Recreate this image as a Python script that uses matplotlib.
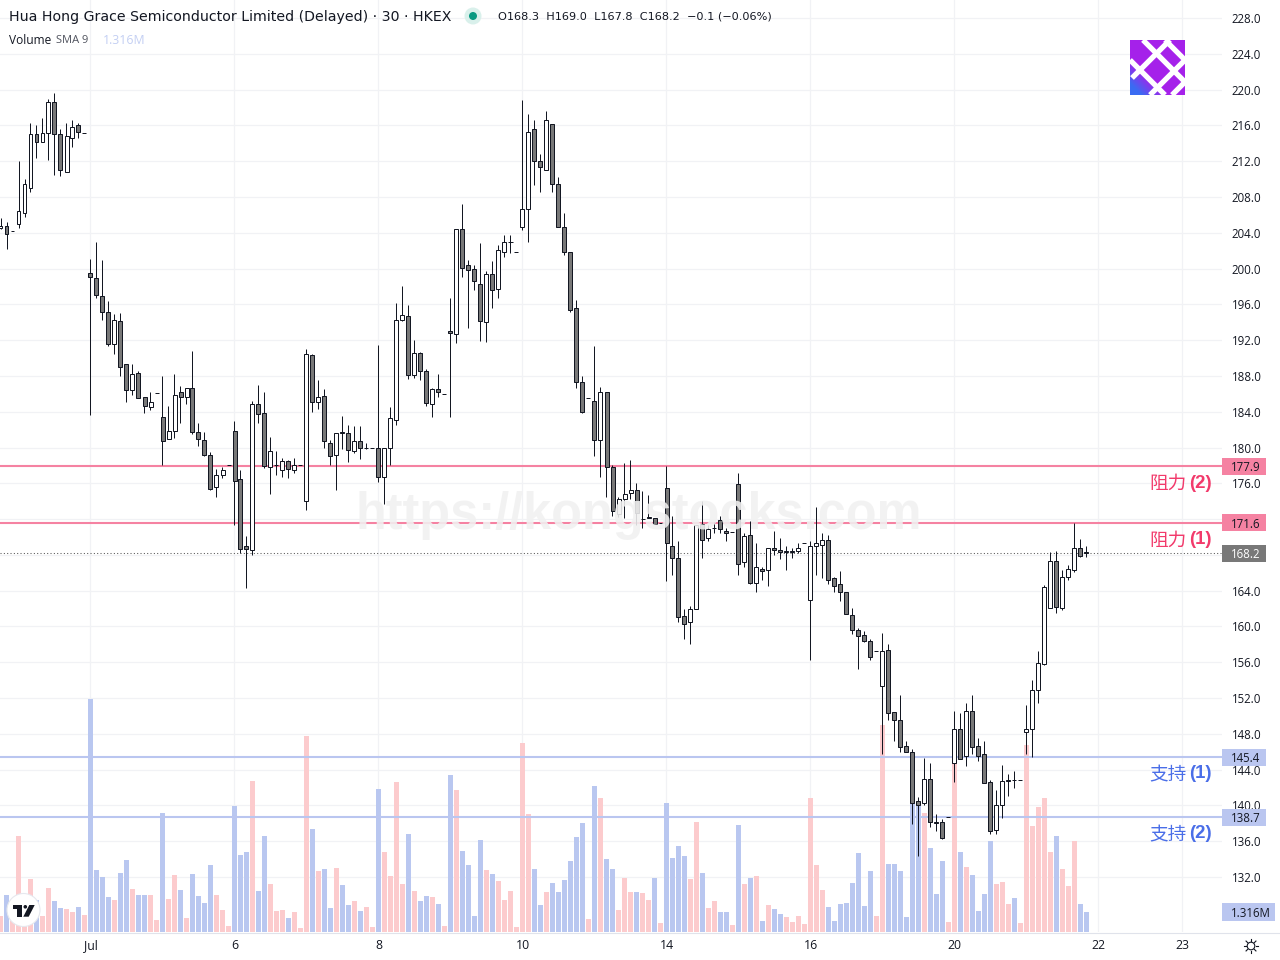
import numpy as np
import matplotlib
matplotlib.use("Agg")
import matplotlib.pyplot as plt
from matplotlib import transforms
from matplotlib.patches import Rectangle, Circle, Polygon

# 30-minute session data, HKEX: Hua Hong Semiconductor
opens = [
 204.5,204.7,204.2,205.0,206.2,209.0,215.0,214.1,215.1,218.6,215.0,210.8,214.6,216.0,215.1,
 199.5,198.9,196.9,195.1,191.6,194.1,189.3,186.4,188.3,185.6,184.5,186.1,183.4,180.9,181.8,186.2,185.6,186.6,181.7,180.8,179.2,175.6,176.9,178.0,
 181.8,176.5,169.0,168.6,184.9,183.9,177.8,178.0,177.5,178.5,177.5,178.0,174.0,190.3,185.1,185.8,180.5,179.2,181.7,181.6,179.6,180.7,179.9,179.9,
 179.9,176.7,179.9,183.1,194.3,194.7,188.1,190.6,188.5,184.9,186.5,186.0,
 193.0,192.7,204.4,200.4,199.9,198.3,194.0,199.4,197.7,201.9,203.0,201.8,
 204.6,206.7,215.6,212.0,211.0,216.1,209.5,204.6,201.8,195.6,187.3,185.5,
 185.2,180.8,186.2,177.8,172.6,174.2,174.9,175.3,172.0,172.1,172.1,171.6,
 175.5,169.0,167.7,161.2,160.5,162.0,171.5,169.9,171.0,171.9,170.7,170.6,
 175.9,167.2,170.2,164.9,166.4,166.3,168.8,168.6,168.3,168.3,168.4,169.3,
 163.0,169.0,169.1,169.7,165.4,164.8,163.9,161.3,159.6,159.0,158.4,157.3,
 153.4,157.4,150.4,149.5,146.6,146.0,140.5,140.3,143.0,138.1,138.1,138.7,
 144.8,148.6,145.5,150.6,146.6,145.7,142.6,137.3,140.0,142.7,142.9,142.9,
 148.2,148.6,152.9,155.8,162.1,167.3,162.1,165.5,166.3,168.8,168.3,
]
highs = [
 205.6,205.2,204.2,212.0,210.0,216.3,216.0,216.8,218.9,219.6,215.6,216.3,216.6,216.3,215.1,
 201.1,203.0,200.9,196.4,194.9,195.0,189.3,189.3,188.6,185.7,186.2,186.1,188.0,184.6,188.2,186.9,186.6,190.8,182.7,181.7,179.5,177.6,177.8,178.0,
 183.0,177.5,170.1,185.2,187.0,186.2,181.2,179.6,178.8,178.6,178.8,178.0,191.0,190.4,187.5,186.5,180.8,181.6,183.5,182.5,182.4,182.4,180.5,179.9,
 191.5,179.9,184.5,196.1,198.0,195.9,192.0,190.7,188.8,186.6,188.2,186.0,
 196.7,204.4,207.2,200.9,200.4,202.9,199.7,200.8,202.6,203.7,203.7,201.8,
 218.8,217.3,216.6,212.8,217.6,216.1,210.2,206.2,201.9,196.5,188.0,185.5,
 191.3,186.8,186.2,178.1,174.5,178.3,178.6,176.0,175.1,174.7,172.1,171.6,
 177.9,172.3,169.6,162.0,162.3,171.3,174.0,171.3,171.7,172.3,171.0,170.6,
 177.1,170.4,171.8,169.3,166.7,168.8,170.7,169.9,169.0,168.8,169.3,169.3,
 169.5,173.3,170.5,170.2,165.5,166.2,163.9,162.1,159.8,159.5,158.6,157.3,
 159.3,158.0,150.4,152.3,147.2,146.3,140.9,145.3,144.7,139.0,138.5,138.7,
 150.6,150.3,151.5,152.4,147.5,147.2,142.9,141.7,144.5,143.5,143.8,142.9,
 151.2,154.0,157.3,164.6,168.3,168.4,166.3,166.9,171.6,169.8,169.0,
]
lows = [
 204.4,202.2,204.2,204.5,205.8,208.6,212.4,214.1,212.1,210.4,210.3,210.8,213.6,214.6,215.1,
 183.6,196.7,194.3,191.4,190.5,188.0,185.1,185.9,185.5,183.9,184.2,186.1,178.0,180.9,181.1,182.7,184.9,181.5,180.2,179.1,175.2,174.5,176.6,178.0,
 171.3,168.2,164.3,168.0,182.7,177.7,174.8,176.9,176.7,176.6,177.2,178.0,173.0,184.0,184.3,180.0,178.0,175.2,179.8,178.4,179.4,178.7,179.8,179.9,
 176.1,173.7,178.0,182.5,194.1,187.7,187.8,187.5,184.6,183.4,185.6,186.0,
 183.4,191.7,199.0,193.4,197.6,191.9,191.8,195.6,196.7,201.3,201.7,201.8,
 204.3,203.0,209.3,208.5,211.0,208.5,204.6,201.5,195.2,186.7,183.9,185.5,
 179.0,176.7,174.5,172.3,172.2,172.1,174.2,171.3,171.0,172.1,171.4,171.6,
 165.1,165.7,160.5,158.6,158.0,161.9,167.7,169.5,170.4,170.5,169.5,170.6,
 165.7,166.7,164.7,163.9,165.2,164.5,168.0,167.5,166.3,167.7,168.2,169.3,
 156.2,165.7,165.4,164.7,163.8,162.9,161.4,159.2,155.3,158.3,156.3,157.3,
 145.8,149.6,147.2,146.0,146.0,137.9,134.4,140.1,137.6,137.2,136.3,138.7,
 142.6,145.2,144.4,145.7,145.0,142.5,136.8,136.8,138.6,141.1,142.0,142.9,
 145.7,145.4,151.4,155.7,162.1,161.5,161.8,165.2,166.1,167.8,167.8,
]
closes = [
 204.8,203.9,204.2,206.4,209.4,215.0,214.1,215.1,218.6,215.0,211.0,214.8,215.8,215.3,215.1,
 199.0,197.0,195.2,191.6,194.2,189.0,186.4,188.2,185.5,184.6,185.1,186.1,180.7,181.8,185.9,185.6,186.6,181.7,180.9,179.2,175.4,176.9,177.5,178.0,
 176.3,168.7,168.7,184.9,183.8,177.9,179.6,178.0,178.5,177.6,178.0,178.0,190.4,185.1,185.7,180.7,179.1,181.6,181.6,179.7,180.7,179.9,179.9,179.9,
 176.7,179.9,183.3,194.3,194.8,188.1,190.6,188.5,185.0,186.5,186.2,186.0,
 192.8,204.4,200.1,199.8,198.6,194.1,199.4,197.6,202.1,203.0,203.0,201.8,
 206.7,215.3,212.0,211.3,216.6,209.5,204.6,201.8,195.4,187.3,184.0,185.5,
 180.8,186.2,177.8,172.9,174.2,174.8,175.3,172.7,172.0,172.2,171.4,171.6,
 169.3,167.6,161.1,160.3,161.9,171.3,169.7,170.9,171.0,170.9,170.5,170.6,
 167.0,170.1,164.9,166.6,166.2,168.8,168.5,168.3,168.4,168.4,168.8,169.3,
 169.0,169.3,169.7,165.2,164.5,163.8,161.4,159.6,158.9,158.4,156.6,157.3,
 157.3,150.3,149.5,146.5,146.0,140.3,140.0,143.0,138.1,138.0,136.4,138.7,
 148.6,145.2,150.6,146.5,145.5,142.5,137.2,140.0,142.7,142.9,142.8,142.9,
 148.6,152.9,155.9,164.4,167.3,162.2,165.5,166.4,168.8,167.9,168.2,
]
# Volume per bar, millions of shares
volumes = [
 1.05,2.43,1.32,6.32,1.97,3.49,2.11,1.05,2.89,2.04,1.58,1.51,1.32,1.64,1.12,
 15.33,4.08,3.62,2.30,2.11,3.88,4.74,2.83,2.43,2.43,2.43,0.79,7.83,2.17,3.75,2.76,0.92,3.82,2.37,1.91,4.41,2.43,1.45,0.39,
 8.29,5.07,5.26,9.93,2.70,6.32,3.16,1.38,1.45,0.92,1.32,0.26,12.90,6.78,4.01,4.14,1.58,4.21,3.09,1.78,2.04,1.38,1.64,0.33,
 9.41,5.26,3.68,9.87,3.16,6.45,2.70,2.04,2.37,2.30,1.84,0.39,
 10.33,9.34,5.33,4.41,1.05,6.05,4.08,3.82,3.36,2.11,2.70,0.33,
 12.43,7.76,4.14,1.78,2.63,3.22,2.63,3.42,4.67,6.25,7.17,0.86,
 9.61,8.82,4.80,4.14,1.45,3.55,2.63,2.63,2.57,2.11,3.55,0.59,
 8.49,4.87,5.66,5.00,3.49,7.24,3.88,1.58,2.04,1.32,1.32,0.46,
 7.04,3.16,3.55,3.68,0.72,1.78,1.51,1.18,0.99,0.66,1.05,0.53,
 8.82,4.41,2.76,1.64,0.72,1.84,1.91,3.22,5.20,1.71,4.01,1.05,
 13.62,4.47,4.47,4.01,0.99,8.55,8.29,7.83,5.53,2.50,4.67,0.66,
 11.16,5.26,4.28,3.75,1.38,2.50,5.99,3.16,3.29,1.84,2.24,0.59,
 12.30,6.97,8.22,8.82,5.26,6.32,4.14,3.03,5.99,1.84,1.316,
]
first_bar = -15

time_tick_bars = [0, 24, 48, 72, 96, 120, 144, 168, 182]
time_tick_labels = ["Jul", "6", "8", "10", "14", "16", "20", "22", "23"]
price_ticks = list(range(132, 232, 4))
covered_ticks = {168, 172}

resistance = [("阻力", "(2)", 177.9, 484), ("阻力", "(1)", 171.6, 541)]
support = [("支持", "(1)", 145.4, 775), ("支持", "(2)", 138.7, 835)]
last_price = 168.2
last_volume = 1.316

INK = "#131722"
BODY = "#787878"
UP_VOL = "#fccbcd"
DOWN_VOL = "#b9c7f0"
RES = "#f582a2"
SUP = "#bac6f0"
GRID = "#f1f2f5"
UI_FONT = "Open Sans"
HEAD_FONT = "DejaVu Sans"

W, H = 1280, 960
PANE_W, PANE_H = 1222, 932
fig = plt.figure(figsize=(W / 100, H / 100), dpi=100, facecolor="white")
rect = [0, (H - PANE_H) / H, PANE_W / W, PANE_H / H]

x = np.arange(len(closes)) + first_bar
o, h, l, c = map(np.array, (opens, highs, lows, closes))
up = c >= o
xlim = (-90.5 / 6, (PANE_W - 90.5) / 6)
ylim = (125.86, 230.01)

# Grid layer with the axis labels
ax_grid = fig.add_axes(rect, zorder=0)
ax_grid.set_xlim(xlim)
ax_grid.set_ylim(ylim)
for s in ax_grid.spines.values():
    s.set_visible(False)
ax_grid.yaxis.tick_right()
ax_grid.set_yticks(price_ticks, ["" if t in covered_ticks else f"{t:.1f}" for t in price_ticks])
ax_grid.set_xticks(time_tick_bars, time_tick_labels)
ax_grid.tick_params(length=0, labelsize=8.3, colors=INK, labelfontfamily=UI_FONT)
ax_grid.tick_params(axis="y", pad=7.0)
ax_grid.tick_params(axis="x", pad=5.2, labelsize=8.8)
ax_grid.grid(True, color=GRID, linewidth=0.9)
ax_grid.set_axisbelow(True)

# Volume layer
ax_vol = fig.add_axes(rect, zorder=1)
ax_vol.patch.set_visible(False)
ax_vol.axis("off")
ax_vol.set_xlim(xlim)
ax_vol.set_ylim(0, PANE_H / (20 / last_volume))
ax_vol.bar(x, volumes, width=5 / 6, color=[UP_VOL if u else DOWN_VOL for u in up], linewidth=0)

# Price layer: levels and candles
ax = fig.add_axes(rect, zorder=2)
ax.patch.set_visible(False)
ax.axis("off")
ax.set_xlim(xlim)
ax.set_ylim(ylim)
for *_, level, _ in resistance:
    ax.axhline(level, color=RES, linewidth=1.5, zorder=1)
for *_, level, _ in support:
    ax.axhline(level, color=SUP, linewidth=1.5, zorder=1)
ax.axhline(last_price, color="#555555", linewidth=0.75, linestyle=(0, (1, 2.2)), zorder=1)
ax.vlines(x, l, h, color=INK, linewidth=0.72, zorder=2)
ax.bar(x, np.abs(c - o), bottom=np.minimum(o, c), width=4 / 6,
       color=["white" if u else BODY for u in up],
       edgecolor=INK, linewidth=0.72, zorder=3)

# Overlay in figure pixels for captions, price tags and badges
ov = fig.add_axes([0, 0, 1, 1], zorder=5)
ov.patch.set_visible(False)
ov.axis("off")
ov.set_xlim(0, W)
ov.set_ylim(H, 0)

price_tf = transforms.blended_transform_factory(ov.transData, ax.transData)
vol_tf = transforms.blended_transform_factory(ov.transData, ax_vol.transData)


def price_tag(value, bg, fg, tf=price_tf, half=0.95, text=None, width=44):
    ov.add_patch(Rectangle((1222, value - half), width, 2 * half, transform=tf,
                           facecolor=bg, edgecolor="none", zorder=3))
    ov.text(1224 + width / 2, value, text or f"{value:.1f}", transform=tf, ha="center",
            va="center_baseline", fontsize=8.3, color=fg, family=UI_FONT, zorder=4)


for *_, level, _ in resistance:
    price_tag(level, RES, INK)
price_tag(last_price, "#787878", "white")
for *_, level, _ in support:
    price_tag(level, SUP, INK)
price_tag(last_volume, SUP, INK, tf=vol_tf, half=0.56, text=f"{last_volume:.3f}M", width=53)

for group, colour in ((resistance, "#f23a6b"), (support, "#4a6ee8")):
    for word, rank, _, ypos in group:
        ov.text(1187, ypos, word, ha="right", va="center", fontsize=13.4, color=colour,
                family=["Noto Sans CJK SC", "DejaVu Sans"], zorder=4)
        ov.text(1212, ypos - 1, rank, ha="right", va="center", fontsize=13.4, color=colour,
                family="Liberation Sans", fontweight="bold", zorder=4)

# Site watermark
ov.text(639, 515, "https://kongstocks.com", ha="center", va="center", fontsize=36.4,
        fontweight="bold", family="Liberation Sans", color="#f1f1f1", alpha=0.88, zorder=2)

# Header lines
ov.text(9, 16.5, "Hua Hong Grace Semiconductor Limited (Delayed) · 30 · HKEX", va="center",
        fontsize=10.15, color=INK, family=HEAD_FONT)
ov.add_patch(Circle((473, 16), 8.5, facecolor="#d9f0eb", edgecolor="none"))
ov.add_patch(Circle((473, 16), 4, facecolor="#089981", edgecolor="none"))
ov.text(498, 16.5, "O168.3  H169.0  L167.8  C168.2  −0.1 (−0.06%)", va="center", fontsize=8.1,
        color=INK, family=HEAD_FONT)
ov.text(9, 40.5, "Volume", va="center", fontsize=8.6, color=INK, family=UI_FONT)
ov.text(56, 40.5, "SMA 9", va="center", fontsize=8.0, color="#50535e", family=UI_FONT)
ov.text(103, 40.5, f"{last_volume:.3f}M", va="center", fontsize=8.8, color="#c3cff3", family=UI_FONT)

# Pane bottom border
ov.plot([0, W], [932.5, 932.5], color="#e0e3eb", linewidth=0.8)

# TradingView badge
ov.add_patch(Circle((23.5, 910), 16.5, facecolor="white", edgecolor="#e6e8ee", linewidth=0.8, zorder=6))
ov.add_patch(Polygon([(12.7, 905), (22, 905), (22, 916.7), (16.7, 916.7), (16.7, 909), (12.7, 909)],
                     facecolor=INK, edgecolor="none", zorder=7))
ov.add_patch(Circle((25.3, 906.8), 1.8, facecolor=INK, edgecolor="none", zorder=7))
ov.add_patch(Polygon([(29.3, 905), (34.7, 905), (28.7, 916.7), (23.3, 916.7)],
                     facecolor=INK, edgecolor="none", zorder=7))

# Settings glyph
ov.add_patch(Circle((1251, 946), 3.8, facecolor="white", edgecolor=INK, linewidth=0.8))
for a in np.arange(8) * np.pi / 4:
    ov.plot([1251 + 4.8 * np.cos(a), 1251 + 7.0 * np.cos(a)],
            [946 + 4.8 * np.sin(a), 946 + 7.0 * np.sin(a)], color=INK, linewidth=0.8)

# Brand mark, a purple square fading to blue at the lower left, crossed by white bands
u, v = np.meshgrid(np.linspace(0, 1, 64), np.linspace(0, 1, 64))
mix = np.clip((v - u - 0.35) / 0.45, 0, 1)[:, :, None]
purple, blue = np.array([0.65, 0.13, 0.92]), np.array([0.23, 0.42, 0.95])
img = purple * (1 - mix) + blue * mix
art = ov.imshow(img, extent=(1130, 1185, 95, 40), aspect="auto", zorder=1)
clip = Rectangle((1130, 40), 55, 55, transform=ov.transData)
art.set_clip_path(clip)
for x0, y0, x1, y1 in [(1143, 40, 1185, 82), (1130, 60, 1165, 95), (1165, 40, 1185, 60),
                       (1150, 95, 1185, 60), (1132, 78, 1170, 40), (1172, 95, 1185, 82)]:
    band, = ov.plot([x0, x1], [y0, y1], color="white", linewidth=3.8, solid_capstyle="butt", zorder=1.5)
    band.set_clip_path(clip)
ov.set_xlim(0, W)
ov.set_ylim(H, 0)

fig.savefig("out.png", dpi=100)
